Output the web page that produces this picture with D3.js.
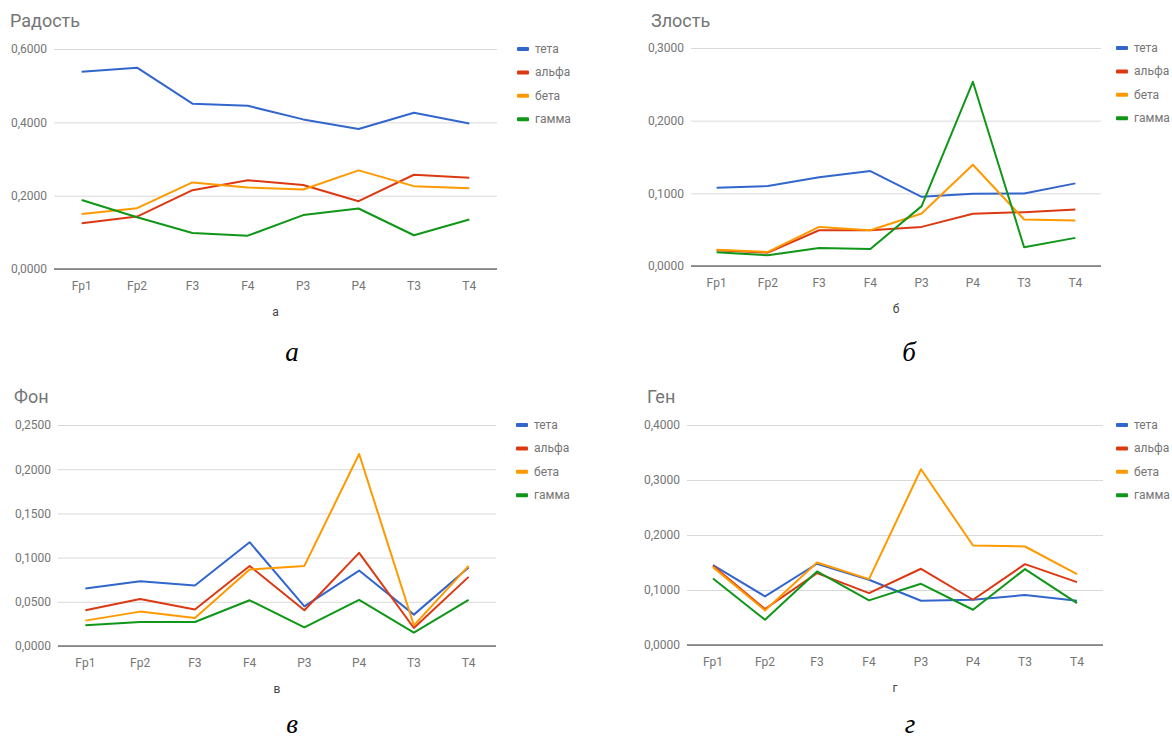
<!DOCTYPE html>
<html>
<head>
<meta charset="utf-8">
<script src="https://cdn.jsdelivr.net/npm/d3@7"></script>
<style>
  html, body { margin: 0; padding: 0; background: #fff; }
  svg { display: block; }
</style>
</head>
<body>
<svg id="chart" width="1172" height="740"></svg>
<script>
// Electrode sites along the x axis
const categories = ["Fp1", "Fp2", "F3", "F4", "P3", "P4", "T3", "T4"];
const seriesNames = ["тета", "альфа", "бета", "гамма"];
const seriesColors = ["#3366cc", "#dc3912", "#ff9900", "#109618"];

// Радость
const joyTheta = [0.538, 0.549, 0.451, 0.445, 0.408, 0.382, 0.426, 0.397];
const joyAlpha = [0.125, 0.143, 0.215, 0.242, 0.229, 0.185, 0.257, 0.249];
const joyBeta  = [0.150, 0.166, 0.236, 0.222, 0.217, 0.269, 0.226, 0.220];
const joyGamma = [0.188, 0.141, 0.098, 0.091, 0.147, 0.165, 0.092, 0.135];
const joyTicks = [0, 0.2, 0.4, 0.6];

// Злость
const angerTheta = [0.1077, 0.1100, 0.1220, 0.1307, 0.0952, 0.0994, 0.0998, 0.1137];
const angerAlpha = [0.0216, 0.0184, 0.0492, 0.0492, 0.0538, 0.0718, 0.0741, 0.0778];
const angerBeta  = [0.0225, 0.0193, 0.0538, 0.0492, 0.0722, 0.1394, 0.0640, 0.0626];
const angerGamma = [0.0189, 0.0147, 0.0248, 0.0235, 0.0824, 0.2535, 0.0258, 0.0387];
const angerTicks = [0, 0.1, 0.2, 0.3];

// Фон
const restTheta = [0.0650, 0.0733, 0.0684, 0.1174, 0.0449, 0.0853, 0.0355, 0.0887];
const restAlpha = [0.0404, 0.0532, 0.0412, 0.0906, 0.0404, 0.1054, 0.0204, 0.0782];
const restBeta  = [0.0287, 0.0389, 0.0317, 0.0865, 0.0906, 0.2172, 0.0234, 0.0906];
const restGamma = [0.0234, 0.0272, 0.0272, 0.0517, 0.0211, 0.0521, 0.0151, 0.0521];
const restTicks = [0, 0.05, 0.10, 0.15, 0.20, 0.25];

// Ген
const genTheta = [0.1452, 0.0884, 0.1477, 0.1186, 0.0805, 0.0823, 0.0908, 0.0805];
const genAlpha = [0.1440, 0.0654, 0.1307, 0.0944, 0.1386, 0.0823, 0.1470, 0.1144];
const genBeta  = [0.1416, 0.0629, 0.1501, 0.1198, 0.3195, 0.1810, 0.1791, 0.1289];
const genGamma = [0.1210, 0.0460, 0.1337, 0.0811, 0.1113, 0.0641, 0.1380, 0.0762];
const genTicks = [0, 0.1, 0.2, 0.3, 0.4];

const panels = [
  { title: "Радость", axisTitle: "а", caption: "а",
    series: [joyTheta, joyAlpha, joyBeta, joyGamma], ticks: joyTicks,
    left: 54, right: 497, top: 49, bottom: 269,
    titleX: 10, titleY: 27, legendX: 517, captionX: 292, captionY: 361 },
  { title: "Злость", axisTitle: "б", caption: "б",
    series: [angerTheta, angerAlpha, angerBeta, angerGamma], ticks: angerTicks,
    left: 691, right: 1101, top: 48, bottom: 266,
    titleX: 651, titleY: 27, legendX: 1116, captionX: 909, captionY: 361 },
  { title: "Фон", axisTitle: "в", caption: "в",
    series: [restTheta, restAlpha, restBeta, restGamma], ticks: restTicks,
    left: 58, right: 496, top: 425, bottom: 646,
    titleX: 14, titleY: 403, legendX: 516, captionX: 292, captionY: 733 },
  { title: "Ген", axisTitle: "г", caption: "г",
    series: [genTheta, genAlpha, genBeta, genGamma], ticks: genTicks,
    left: 687, right: 1103, top: 425, bottom: 645,
    titleX: 647, titleY: 403, legendX: 1116, captionX: 910, captionY: 733 }
];

const svg = d3.select("#chart");
const fmt = v => d3.format(".4f")(v).replace(".", ",");
const textFont = "Roboto, 'Noto Sans', sans-serif";

panels.forEach(p => {
  const g = svg.append("g");
  const x = d3.scaleBand().domain(categories).range([p.left, p.right]);
  const y = d3.scaleLinear().domain([0, d3.max(p.ticks)]).range([p.bottom, p.top]);

  // Title
  g.append("text")
    .attr("x", p.titleX).attr("y", p.titleY)
    .attr("font-family", textFont).attr("font-size", 18)
    .attr("fill", "#757575").text(p.title);

  // Gridlines and y tick labels
  const yAxis = d3.axisLeft(y).tickValues(p.ticks).tickFormat(fmt)
    .tickSize(-(p.right - p.left)).tickPadding(7);
  const ya = g.append("g").attr("transform", `translate(${p.left},0)`).call(yAxis);
  ya.select(".domain").remove();
  ya.selectAll(".tick line").attr("stroke", "#d9d9d9").attr("stroke-width", 1);
  ya.selectAll(".tick text").attr("font-family", textFont).attr("font-size", 12)
    .attr("fill", "#757575");

  // Baseline
  g.append("line")
    .attr("x1", p.left).attr("x2", p.right)
    .attr("y1", y(0)).attr("y2", y(0))
    .attr("stroke", "#333").attr("stroke-width", 1.2);

  // X tick labels
  const xAxis = d3.axisBottom(x).tickSize(0).tickPadding(12);
  const xa = g.append("g").attr("transform", `translate(0,${p.bottom})`).call(xAxis);
  xa.select(".domain").remove();
  xa.selectAll(".tick text").attr("font-family", textFont).attr("font-size", 12)
    .attr("fill", "#757575");

  // Axis title
  g.append("text")
    .attr("x", (p.left + p.right) / 2).attr("y", p.bottom + 47)
    .attr("text-anchor", "middle")
    .attr("font-family", textFont).attr("font-size", 12)
    .attr("fill", "#444").text(p.axisTitle);

  // Series lines
  const line = d3.line()
    .x((d, i) => x(categories[i]) + x.bandwidth() / 2)
    .y(d => y(d));
  p.series.forEach((vals, si) => {
    g.append("path")
      .datum(vals)
      .attr("d", line)
      .attr("fill", "none")
      .attr("stroke", seriesColors[si])
      .attr("stroke-width", 2)
      .attr("stroke-linejoin", "round");
  });

  // Legend
  seriesNames.forEach((name, si) => {
    const ly = p.top + si * 23.4;
    g.append("rect")
      .attr("x", p.legendX).attr("y", ly - 2)
      .attr("width", 12).attr("height", 4).attr("rx", 1)
      .attr("fill", seriesColors[si]);
    g.append("text")
      .attr("x", p.legendX + 18).attr("y", ly + 4)
      .attr("font-family", textFont).attr("font-size", 12)
      .attr("fill", "#757575").text(name);
  });

  // Caption letter under the panel
  svg.append("text")
    .attr("x", p.captionX).attr("y", p.captionY)
    .attr("text-anchor", "middle")
    .attr("font-family", "'Liberation Serif', 'DejaVu Serif', serif")
    .attr("font-style", "italic").attr("font-size", 27)
    .attr("fill", "#000").text(p.caption);
});
</script>
</body>
</html>
